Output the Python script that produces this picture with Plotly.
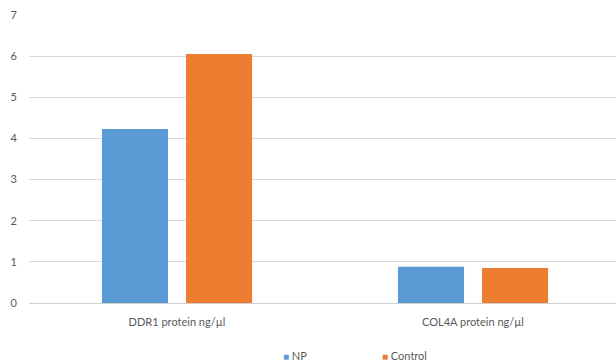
import plotly.graph_objects as go

categories = ["DDR1 protein ng/µl", "COL4A protein ng/µl"]
series_names = ["NP", "Control"]
np_values = [4.23, 0.88]
control_values = [6.05, 0.85]
series_colors = ["#5B9BD5", "#ED7D31"]
y_ticks = [0, 1, 2, 3, 4, 5, 6, 7]

font_family = "Lato, 'Open Sans', sans-serif"
text_grey = "#595959"

fig = go.Figure()
for name, values, color in zip(series_names, [np_values, control_values], series_colors):
    fig.add_trace(go.Bar(name=name, x=categories, y=values,
                         marker=dict(color=color, line=dict(width=0))))

# Compact legend row under the chart: small coloured square followed by the name
legend_x = [281, 380]
for name, color, lx in zip(series_names, series_colors, legend_x):
    fig.add_annotation(
        text=f"<span style='color:{color}; font-size:10px'>■</span> {name}",
        xref="paper", yref="paper",
        x=(lx - 29) / 587, xanchor="left",
        y=-(355 - 303) / 288, yanchor="middle",
        showarrow=False, font=dict(size=11, color=text_grey),
    )

fig.update_layout(
    width=616, height=364,
    margin=dict(l=29, r=0, t=15, b=61, autoexpand=False),
    paper_bgcolor="white", plot_bgcolor="white",
    barmode="group", bargap=0.432, bargroupgap=0.214,
    font=dict(family=font_family, size=11, color=text_grey),
    showlegend=False,
    xaxis=dict(range=[-0.5, 1.483], showgrid=False, showline=False, ticks="",
               ticklabelstandoff=11, tickfont=dict(size=11, color=text_grey)),
    yaxis=dict(range=[0, 7], tickvals=y_ticks, showgrid=True, gridcolor="#D9D9D9",
               gridwidth=1, zeroline=True, zerolinecolor="#D0D0D0", zerolinewidth=1,
               showline=False, ticks="", ticklabelstandoff=11,
               tickfont=dict(size=11, color=text_grey)),
)

fig.write_html("out.html")
